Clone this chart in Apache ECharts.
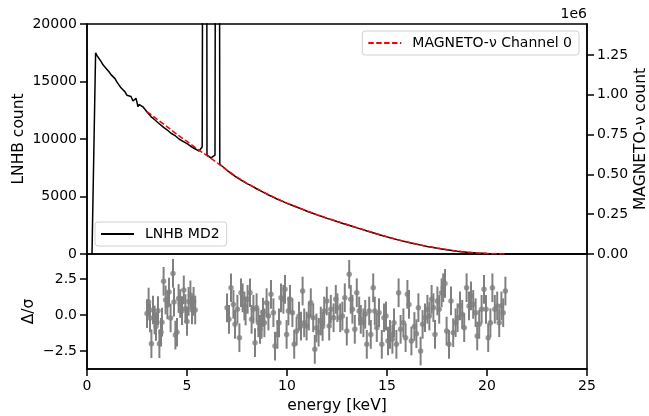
<!DOCTYPE html>
<html>
<head>
<meta charset="utf-8">
<script src="https://cdn.jsdelivr.net/npm/echarts@6/dist/echarts.min.js"></script>
<style>
html,body{margin:0;padding:0;background:#fff;}
#chart{width:649px;height:416px;}
</style>
</head>
<body>
<div id="chart"></div>
<script>
// ---------- DATA ----------
// LNHB MD2 spectrum (left axis, counts) vs energy [keV]
const lnhbEnergy = [0.25,0.43,0.5,0.6,0.7,0.8,0.9,1.0,1.1,1.2,1.3,1.4,1.5,1.6,1.7,1.8,1.9,2.0,2.1,2.2,2.3,2.4,2.45,2.55,2.6,2.7,2.8,2.9,3.0,3.1,3.2,3.3,3.4,3.5,3.6,3.7,3.8,3.9,4.0,4.1,4.2,4.3,4.4,4.5,4.6,4.7,4.8,4.9,5.0,5.1,5.2,5.3,5.4,5.5,5.6,5.7,5.76,5.82,5.97,6.0,6.1,6.2,6.3,6.4,6.45,6.6,6.64,6.75,7.0,7.25,7.5,7.75,8.0,8.25,8.5,8.75,9.0,9.25,9.5,9.75,10.0,10.25,10.5,10.75,11.0,11.25,11.5,11.75,12.0,12.25,12.5,12.75,13.0,13.25,13.5,13.75,14.0,14.25,14.5,14.75,15.0,15.25,15.5,15.75,16.0,16.25,16.5,16.75,17.0,17.25,17.5,17.75,18.0,18.5,19.0,19.5,20.0,20.5,21.0,25.0];
const lnhbCounts = [0,17500,17250,17000,16750,16450,16300,16050,15850,15600,15450,15250,14950,14800,14450,14300,14100,13800,13650,13700,13300,13350,13550,12800,13000,12950,12800,12650,12350,12150,11950,11800,11650,11550,11350,11200,11050,10950,10800,10700,10500,10350,10300,10200,10000,9900,9800,9700,9600,9500,9350,9250,9150,9050,8950,8900,9300,60000,60000,8600,8450,8350,8380,8600,60000,60000,7800,7650,7280,6950,6650,6380,6120,5900,5650,5430,5200,4990,4780,4600,4400,4240,4060,3900,3720,3570,3400,3260,3100,2970,2820,2680,2540,2410,2270,2140,2000,1870,1740,1610,1490,1370,1250,1140,1040,940,840,750,660,580,500,430,360,240,150,85,35,10,0,0];

// MAGNETO-nu Channel 0 (right axis, counts)
const magEnergy = [3.0,3.5,4.0,4.5,5.0,5.5,6.0,6.5,7.0,7.5,8.0,8.5,9.0,9.5,10.0,10.5,11.0,11.5,12.0,12.5,13.0,13.5,14.0,14.5,15.0,15.5,16.0,16.5,17.0,17.5,18.0,18.5,19.0,19.5,20.0,20.5,21.0];
const magCounts = [895000,847000,800000,751000,707000,661000,618000,574000,527000,483000,444000,410000,378000,347000,319000,295000,270000,247000,225000,205000,185000,165000,146000,126000,108000,91000,76000,61000,48000,37000,27000,18000,11600,6500,2900,900,0];

// Residuals Delta/sigma
const resEnergy = [3.0,3.08,3.15,3.22,3.3,3.38,3.45,3.55,3.62,3.7,3.75,3.83,3.93,4.02,4.1,4.18,4.3,4.35,4.42,4.5,4.58,4.66,4.75,4.84,4.92,5.0,5.08,5.17,5.25,5.33,5.41,
7.0,7.1,7.2,7.32,7.4,7.52,7.62,7.7,7.78,7.87,7.93,8.03,8.15,8.23,8.32,8.4,8.48,8.57,8.65,8.73,8.8,8.87,8.98,9.07,9.2,9.32,9.4,9.52,9.6,9.7,9.82,9.9,9.98,10.07,10.15,10.27,10.36,10.48,10.6,10.7,10.78,10.86,10.98,11.09,11.19,11.31,11.39,11.47,11.58,11.69,11.78,11.86,11.99,12.11,12.19,12.33,12.44,12.52,12.66,12.77,12.89,12.99,13.11,13.19,13.27,13.39,13.49,13.61,13.69,13.82,13.91,13.99,14.11,14.19,14.31,14.39,14.49,14.6,14.74,14.85,14.95,15.05,15.15,15.27,15.35,15.47,15.58,15.68,15.82,15.93,16.02,16.1,16.22,16.37,16.47,16.57,16.68,16.78,16.9,17.02,17.12,17.23,17.32,17.4,17.52,17.61,17.73,17.81,17.9,17.98,18.1,18.2,18.31,18.43,18.53,18.65,18.76,18.86,18.98,19.1,19.2,19.31,19.43,19.51,19.61,19.73,19.85,19.95,20.06,20.17,20.27,20.39,20.51,20.61,20.72,20.81,20.92];
const resValue = [0.1,0.9,-0.2,-2.0,0.35,-0.35,-0.8,0.3,-2.0,-1.2,-0.5,2.35,1.05,0.7,1.6,-0.2,2.9,0.9,-1.4,-1.2,1.15,0.8,0.3,1.75,0.45,-0.45,0.95,1.4,0.35,0.95,0.35,
0.5,-0.3,1.9,0.74,-0.65,0.4,-1.58,1.55,1.2,0.63,0.28,1.09,1.55,-0.3,0.4,-1.93,0.51,-0.54,-1.0,-0.65,0.2,-0.54,0.86,-0.07,1.44,0.16,-2.16,-1.35,-0.54,1.2,1.09,1.79,-1.35,0.28,1.09,0.16,-2.04,-1.12,-0.07,-0.77,1.67,-0.54,-0.77,-0.07,0.86,-0.19,-2.39,-0.9,-1.2,-0.42,-0.8,0.28,0.98,-0.77,0.4,-0.19,1.09,0.51,-0.19,-0.07,1.2,-1.12,2.84,1.09,0.4,-1.0,1.55,0.28,-0.3,-0.54,0.05,-2.04,0.28,-1.35,1.9,0.28,-0.88,0.16,-2.04,-0.19,-0.07,-1.81,-1.35,-1.69,-0.54,-2.04,1.55,-1.0,-0.54,-1.58,1.44,0.74,-1.81,-0.8,-1.3,0.51,-2.51,-0.65,-0.19,0.4,-0.07,1.09,0.51,-1.35,0.98,0.4,1.55,1.9,2.2,-1.12,-2.04,0.98,-1.23,-0.54,-0.19,0.63,0.05,-0.88,1.9,0.63,1.33,0.74,0.16,-1.46,-0.65,0.4,1.79,0.4,-1.58,-0.54,1.9,0.4,0.63,-0.54,0.63,0.16,1.67];
const resError = 1.0;

// tick labels
const xTicks = [0,5,10,15,20,25];
const leftTicks = [0,5000,10000,15000,20000];
const rightTicks = [0,250000,500000,750000,1000000,1250000];
const resTicks = [-2.5,0,2.5];

// ---------- CHART ----------
const FONT = 'DejaVu Sans';
const zip = (a,b) => a.map((v,i)=>[v,b[i]]);
const chart = echarts.init(document.getElementById('chart'), null, {renderer:'canvas'});

const axisLineStyle = {color:'#000', width:1.5};
const tickStyle = {show:true, inside:false, length:7, lineStyle:{color:'#000', width:1.5}};
const labelStyle = {color:'#000', fontFamily:FONT, fontSize:14};
const nameStyle = {color:'#000', fontFamily:FONT, fontSize:15.5};
const legendCommon = {
  orient:'vertical', itemWidth:33, itemHeight:10, padding:[5,7,5,5],
  backgroundColor:'rgba(255,255,255,0.8)', borderColor:'#d0d0d0', borderWidth:1, borderRadius:3,
  itemStyle:{opacity:0},
  textStyle:{color:'#000', fontFamily:FONT, fontSize:14, padding:[0,0,0,6]}
};

const option = {
  animation:false,
  backgroundColor:'#fff',
  grid:[
    {left:87, top:24, width:500, height:230, containLabel:false, outerBoundsMode:'none', show:true, borderColor:'#000', borderWidth:1.5, backgroundColor:'transparent'},
    {left:87, top:254, width:500, height:115, containLabel:false, outerBoundsMode:'none', show:true, borderColor:'#000', borderWidth:1.5, backgroundColor:'transparent'}
  ],
  xAxis:[
    {gridIndex:0, type:'value', min:0, max:25, interval:5, axisLine:{show:false}, axisTick:{show:false}, axisLabel:{show:false}, splitLine:{show:false}},
    {gridIndex:1, type:'value', min:0, max:25, interval:5,
     axisLine:{show:true, onZero:false, lineStyle:axisLineStyle}, axisTick:tickStyle,
     axisLabel:Object.assign({margin:10, customValues:xTicks, formatter:v=>String(v)}, labelStyle),
     splitLine:{show:false},
     name:'energy [keV]', nameLocation:'middle', nameGap:29, nameMoveOverlap:false, nameTextStyle:nameStyle}
  ],
  yAxis:[
    {gridIndex:0, type:'value', min:0, max:20000, interval:5000, position:'left',
     axisLine:{show:true, onZero:false, lineStyle:axisLineStyle}, axisTick:Object.assign({customValues:leftTicks}, tickStyle),
     axisLabel:Object.assign({margin:10, customValues:leftTicks, formatter:v=>String(v)}, labelStyle),
     splitLine:{show:false},
     name:'LNHB count', nameLocation:'middle', nameGap:60, nameMoveOverlap:false, nameRotate:90, nameTextStyle:nameStyle},
    {gridIndex:0, type:'value', min:0, max:1445000, position:'right',
     axisLine:{show:true, onZero:false, lineStyle:axisLineStyle}, axisTick:Object.assign({customValues:rightTicks}, tickStyle),
     axisLabel:Object.assign({margin:10, customValues:rightTicks, formatter:v=>(v/1e6).toFixed(2)}, labelStyle),
     splitLine:{show:false},
     name:'MAGNETO-\u03bd count', nameLocation:'middle', nameGap:46, nameMoveOverlap:false, nameRotate:90, nameTextStyle:nameStyle},
    {gridIndex:1, type:'value', min:-3.76, max:4.25, position:'left',
     axisLine:{show:true, onZero:false, lineStyle:axisLineStyle}, axisTick:Object.assign({customValues:resTicks}, tickStyle),
     axisLabel:Object.assign({margin:10, customValues:resTicks, formatter:v=>(v<0?'\u2212':'')+Math.abs(v).toFixed(1)}, labelStyle),
     splitLine:{show:false},
     name:'\u0394/\u03c3', nameLocation:'middle', nameGap:50, nameMoveOverlap:false, nameRotate:90, nameTextStyle:nameStyle}
  ],
  legend:[
    Object.assign({data:['MAGNETO-\u03bd Channel 0'], right:70, top:31}, legendCommon),
    Object.assign({data:['LNHB MD2'], left:95, top:222}, legendCommon)
  ],
  graphic:[
    {type:'text', right:649-587, top:7, style:{text:'1e6', fill:'#000', font:'14px "DejaVu Sans"'}}
  ],
  series:[
    {name:'LNHB MD2', type:'line', xAxisIndex:0, yAxisIndex:0, data:zip(lnhbEnergy,lnhbCounts),
     showSymbol:false, symbol:'none', clip:true, z:3,
     lineStyle:{color:'#000', width:1.5}, itemStyle:{color:'#000'}},
    {name:'MAGNETO-\u03bd Channel 0', type:'line', xAxisIndex:0, yAxisIndex:1, data:zip(magEnergy,magCounts),
     showSymbol:false, symbol:'none', clip:true, z:4,
     lineStyle:{color:'#ff0000', width:1.5, type:[5.5,2.4]}, itemStyle:{color:'#ff0000'}},
    {name:'errbars', type:'custom', xAxisIndex:1, yAxisIndex:2, z:3,
     data:resEnergy.map((e,i)=>[e,resValue[i],resError]),
     renderItem:function(params, api){
       const x=api.value(0), y=api.value(1), e=api.value(2);
       const p1=api.coord([x,y-e]), p2=api.coord([x,y+e]);
       return {type:'line', shape:{x1:p1[0],y1:p1[1],x2:p2[0],y2:p2[1]}, style:{stroke:'#808080', lineWidth:2}};
     }},
    {name:'resid', type:'scatter', xAxisIndex:1, yAxisIndex:2, z:4,
     data:zip(resEnergy,resValue), symbol:'circle', symbolSize:5.5,
     itemStyle:{color:'#808080'}}
  ]
};
chart.setOption(option);
</script>
</body>
</html>
